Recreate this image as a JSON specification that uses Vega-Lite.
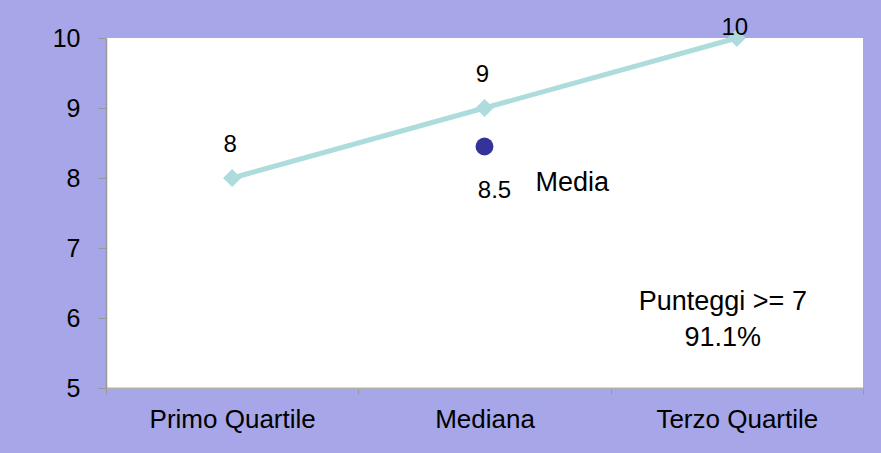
{
  "$schema": "https://vega.github.io/schema/vega-lite/v6.json",
  "width": 757,
  "height": 350,
  "autosize": {"type": "none"},
  "padding": {"left": 106, "top": 38, "right": 18, "bottom": 65},
  "background": "#a6a6e8",
  "config": {
    "font": "Liberation Sans",
    "view": {"fill": "white", "stroke": null}
  },
  "datasets": {
    "quart": [
      {"categoria": "Primo Quartile", "valore": 8},
      {"categoria": "Mediana", "valore": 9},
      {"categoria": "Terzo Quartile", "valore": 10}
    ],
    "media": [
      {"categoria": "Mediana", "valore": 8.45, "etichetta": "8.5", "nome": "Media"}
    ],
    "nota": [
      {"categoria": "Terzo Quartile", "valore": 6.23, "testo": "Punteggi >= 7"},
      {"categoria": "Terzo Quartile", "valore": 5.72, "testo": "91.1%"}
    ]
  },
  "encoding": {
    "x": {
      "field": "categoria",
      "type": "nominal",
      "sort": ["Primo Quartile", "Mediana", "Terzo Quartile"],
      "scale": {"domain": ["Primo Quartile", "Mediana", "Terzo Quartile"], "paddingInner": 0, "paddingOuter": 0},
      "axis": {
        "title": null,
        "labelAngle": 0,
        "labelFontSize": 26,
        "labelColor": "black",
        "labelPadding": 12,
        "tickBand": "extent",
        "tickSize": 6,
        "tickColor": "#999999",
        "domainColor": "#b0b0b0",
        "domainWidth": 2,
        "grid": false
      }
    },
    "y": {
      "field": "valore",
      "type": "quantitative",
      "scale": {"domain": [5, 10], "nice": false, "zero": false},
      "axis": {
        "title": null,
        "values": [5, 6, 7, 8, 9, 10],
        "labelFontSize": 25,
        "labelColor": "black",
        "labelPadding": 18,
        "tickSize": 8,
        "tickColor": "#999999",
        "domainColor": "#999999",
        "domainWidth": 1.5,
        "grid": false
      }
    }
  },
  "layer": [
    {
      "data": {"name": "quart"},
      "mark": {"type": "line", "color": "#aedcdd", "strokeWidth": 5}
    },
    {
      "data": {"name": "quart"},
      "mark": {"type": "point", "shape": "diamond", "filled": true, "size": 330, "color": "#aedcdd", "opacity": 1}
    },
    {
      "data": {"name": "quart"},
      "transform": [{"filter": "datum.valore < 10"}],
      "mark": {"type": "text", "fontSize": 24, "dy": -33, "dx": -2, "color": "black"},
      "encoding": {"text": {"field": "valore", "type": "quantitative"}}
    },
    {
      "data": {"name": "quart"},
      "transform": [{"filter": "datum.valore >= 10"}],
      "mark": {"type": "text", "fontSize": 24, "dy": -10, "dx": -2, "color": "black"},
      "encoding": {"text": {"field": "valore", "type": "quantitative"}}
    },
    {
      "data": {"name": "media"},
      "mark": {"type": "point", "shape": "circle", "filled": true, "size": 320, "color": "#333399", "opacity": 1}
    },
    {
      "data": {"name": "media"},
      "mark": {"type": "text", "fontSize": 24, "dy": 44, "dx": 10, "color": "black"},
      "encoding": {"text": {"field": "etichetta"}}
    },
    {
      "data": {"name": "media"},
      "mark": {"type": "text", "fontSize": 27, "dy": 36, "dx": 51, "align": "left", "color": "black"},
      "encoding": {"text": {"field": "nome"}}
    },
    {
      "data": {"name": "nota"},
      "mark": {"type": "text", "fontSize": 27, "dx": -14, "color": "black"},
      "encoding": {"text": {"field": "testo"}}
    }
  ]
}
